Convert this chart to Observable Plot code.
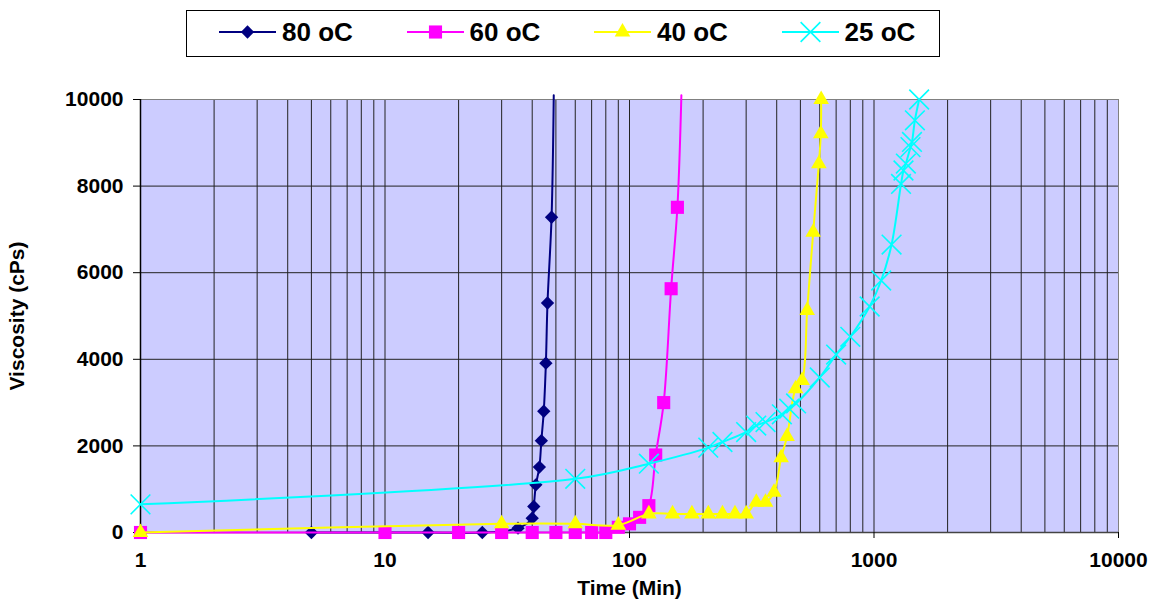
<!DOCTYPE html>
<html><head><meta charset="utf-8">
<script src="https://cdn.jsdelivr.net/npm/d3@7"></script>
<script src="https://cdn.jsdelivr.net/npm/@observablehq/plot@0.6"></script>
<style>
body{margin:0;background:#fff;}
#wrap{position:relative;width:1155px;height:600px;font-family:"Liberation Sans",Arial,sans-serif;}
#legend{position:absolute;left:186px;top:10px;width:752px;height:45px;border:1px solid #000;background:#fff;z-index:2;}
.item{position:absolute;top:0;height:42px;display:flex;align-items:center;font-weight:bold;font-size:26px;color:#000;}
.item span{margin-left:6px;}
#chart{position:absolute;left:0;top:0;}
</style></head><body>
<div id="wrap"><div id="legend"></div><div id="chart"></div></div>
<script>
// ---- data ----
const seriesNames = ["80 oC", "60 oC", "40 oC", "25 oC"];
const seriesColors = ["#000080", "#ff00ff", "#ffff00", "#00ffff"];

const t80 = [5, 15, 25, 35, 40, 40.6, 41.4, 42.8, 43.6, 44.6, 45.5, 46.2, 48, 49];
const v80 = [0, 0, 0, 100, 330, 600, 1100, 1510, 2120, 2800, 3910, 5300, 7280, 10100];

const t60 = [1, 10, 20, 30, 40, 50, 60, 70, 80, 90, 100, 110, 120, 128, 138, 148, 157, 163];
const v60 = [0, 0, 0, 0, 0, 0, 0, 0, 0, 120, 200, 350, 620, 1790, 3000, 5630, 7510, 10100];

const t40 = [1, 30, 60, 90, 120, 150, 180, 210, 240, 270, 300, 330, 360, 390, 417, 441, 478, 508, 533, 564, 595, 606, 608];
const v40 = [0, 200, 200, 170, 430, 430, 430, 430, 430, 430, 430, 700, 700, 930, 1725, 2220, 3320, 3510, 5130, 6935, 8515, 9210, 10000];

const t25 = [1, 60, 120, 210, 240, 300, 330, 360, 420, 450, 480, 600, 700, 800, 960, 1070, 1180, 1290, 1320, 1350, 1410, 1430, 1470, 1530];
const v25 = [650, 1240, 1590, 1960, 2090, 2320, 2470, 2550, 2730, 2860, 2980, 3580, 4110, 4520, 5220, 5820, 6650, 8050, 8360, 8520, 8900, 9020, 9520, 10000];

const xTicks = [1, 10, 100, 1000, 10000];
const yTicks = [0, 2000, 4000, 6000, 8000, 10000];

// ---- build ----
const toRows = (ts, vs) => ts.map((t, i) => ({t, v: vs[i]}));
const rows = [toRows(t80, v80), toRows(t60, v60), toRows(t40, v40), toRows(t25, v25)];
const symbols = ["diamond2", "square", "triangle", "times"];
const radii = [6, 7.4, 5.8, 9];
const isStroke = [false, false, false, true];

const gridX = d3.scaleLog().domain([1, 10000]).ticks();
const font = '"Liberation Sans", Arial, sans-serif';

const seriesMarks = [];
rows.forEach((r, i) => {
  seriesMarks.push(Plot.line(r, {x: "t", y: "v", stroke: seriesColors[i], strokeWidth: 2, curve: "catmull-rom"}));
  seriesMarks.push(Plot.dot(r.filter(d => d.v <= 10000), {
    x: "t", y: "v", symbol: () => symbols[i], r: radii[i],
    fill: isStroke[i] ? "none" : seriesColors[i],
    stroke: isStroke[i] ? seriesColors[i] : "none",
    strokeWidth: isStroke[i] ? 1.6 : 0
  }));
});

const chart = Plot.plot({
  width: 1155, height: 600,
  marginTop: 99, marginRight: 37, marginBottom: 68, marginLeft: 140,
  style: {fontFamily: font, fontSize: "21px", fontWeight: "bold", color: "#000", background: "transparent", overflow: "visible"},
  x: {type: "log", domain: [1, 10000]},
  y: {domain: [0, 10000]},
  marks: [
    Plot.frame({fill: "#ccccff", stroke: "none"}),
    Plot.ruleX(gridX, {stroke: "#222", strokeWidth: 1}),
    Plot.ruleY(yTicks.slice(1), {stroke: "#222", strokeWidth: 1}),
    Plot.frame({stroke: "#808080", fill: "none"}),
    Plot.ruleX([1], {stroke: "#000", strokeWidth: 1.5}),
    Plot.ruleY([0], {stroke: "#444", strokeWidth: 1.5}),
    Plot.axisY({ticks: yTicks, tickFormat: d3.format("d"), tickSize: 7, tickPadding: 10,
      label: "Viscosity (cPs)", labelAnchor: "center", labelOffset: 131, labelArrow: "none"}),
    Plot.axisX({ticks: xTicks, tickFormat: d3.format("d"), tickSize: 6, tickPadding: 14,
      label: "Time (Min)", labelAnchor: "center", labelOffset: 62, labelArrow: "none"}),
    ...seriesMarks
  ]
});
document.getElementById("chart").appendChild(chart);

// ---- legend ----
const legend = document.getElementById("legend");
const d3sym = {diamond2: d3.symbolDiamond2, square: d3.symbolSquare, triangle: d3.symbolTriangle, times: d3.symbolTimes};
seriesNames.forEach((name, i) => {
  const item = document.createElement("div");
  item.className = "item";
  item.style.left = (32 + 187.5 * i) + "px";
  const svg = d3.create("svg").attr("width", 57).attr("height", 24);
  svg.append("line").attr("x1", 0).attr("x2", 57).attr("y1", 12).attr("y2", 12)
    .attr("stroke", seriesColors[i]).attr("stroke-width", 2);
  const p = d3.symbol(d3sym[symbols[i]], Math.PI * radii[i] * radii[i])();
  svg.append("path").attr("d", p).attr("transform", "translate(28.5,12)")
    .attr("fill", isStroke[i] ? "none" : seriesColors[i])
    .attr("stroke", isStroke[i] ? seriesColors[i] : "none")
    .attr("stroke-width", 1.6);
  item.appendChild(svg.node());
  const s = document.createElement("span");
  s.textContent = name;
  item.appendChild(s);
  legend.appendChild(item);
});
</script>
</body></html>
